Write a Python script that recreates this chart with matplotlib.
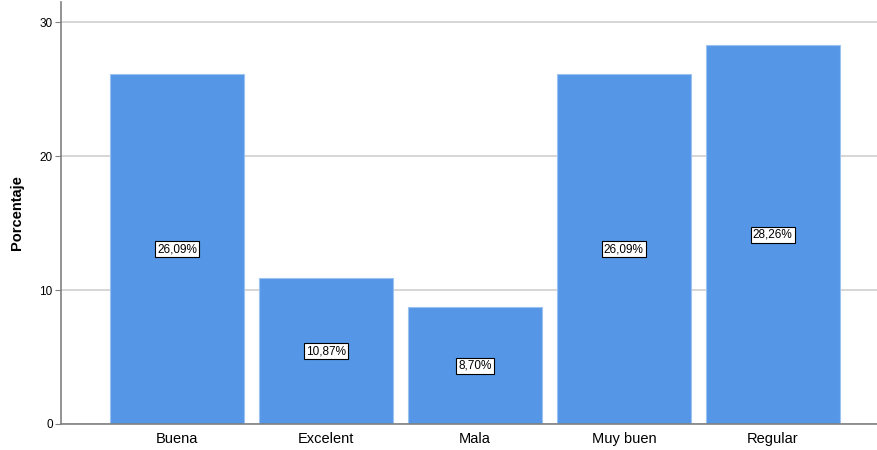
import numpy as np
import matplotlib.pyplot as plt

# Datos
categorias = ["Buena", "Excelent", "Mala", "Muy buen", "Regular"]
porcentajes = [26.09, 10.87, 8.70, 26.09, 28.26]
etiquetas = ["26,09%", "10,87%", "8,70%", "26,09%", "28,26%"]
ticks_y = [0, 10, 20, 30]

plt.rcParams['font.family'] = ['Liberation Sans', 'DejaVu Sans']

fig = plt.figure(figsize=(8.77, 4.5), dpi=100)
ax = fig.add_axes([61/877, 26/450, 1 - 61/877, 422/450])

x = np.arange(len(categorias))
ax.bar(x, porcentajes, width=0.9, color="#5596e6", edgecolor="#9cc3f0",
       linewidth=0.8, zorder=2)

# Etiquetas en el medio de cada barra
for xi, val, txt in zip(x, porcentajes, etiquetas):
    ax.text(xi, val / 2, txt, ha="center", va="center", fontsize=8.5,
            zorder=3,
            bbox=dict(boxstyle="square,pad=0.18", fc="white", ec="black", lw=0.8))

ax.set_xlim(-0.78, 4.70)
ax.set_ylim(0, 31.5)
ax.set_xticks(x)
ax.set_xticklabels(categorias, fontsize=10.5)
ax.set_yticks(ticks_y)
ax.set_yticklabels([str(t) for t in ticks_y], fontsize=8.5)
ax.tick_params(axis="x", length=0, pad=6)
ax.tick_params(axis="y", length=4, color="#808080", pad=2)

ax.set_ylabel("Porcentaje", fontsize=10.5, fontweight="bold", labelpad=11)

ax.grid(axis="y", color="#d0d0d0", linewidth=1.2, zorder=0)
ax.set_axisbelow(True)
for s in ["top", "right"]:
    ax.spines[s].set_visible(False)
for s in ["left", "bottom"]:
    ax.spines[s].set_color("#808080")
    ax.spines[s].set_linewidth(1.2)

plt.savefig("out.png", dpi=100)
